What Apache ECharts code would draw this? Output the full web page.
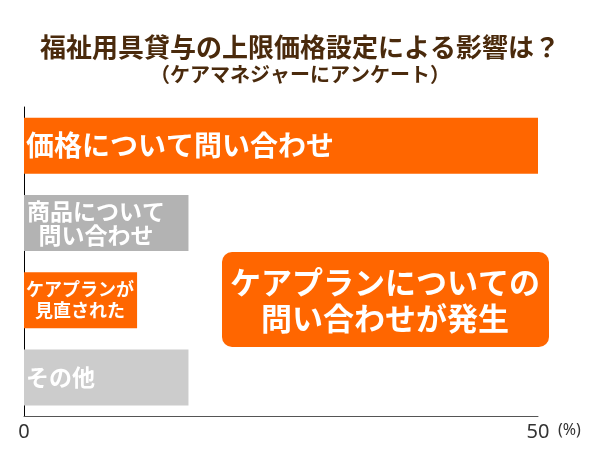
<!DOCTYPE html>
<html>
<head>
<meta charset="utf-8">
<script src="https://cdn.jsdelivr.net/npm/echarts@6/dist/echarts.min.js"></script>
<style>
html,body{margin:0;padding:0;background:#fff;}
#c{width:600px;height:450px;}
</style>
</head>
<body>
<div id="c"></div>
<script>
const titleText = '福祉用具貸与の上限価格設定による影響は？';
const subtitleText = '（ケアマネジャーにアンケート）';
const categories = ['価格について問い合わせ', '商品について\n問い合わせ', 'ケアプランが\n見直された', 'その他'];
const values = [50, 16, 11, 16];
const barColors = ['#FF6600', '#B3B3B3', '#FF6600', '#CCCCCC'];
const annotationLines = ['ケアプランについての', '問い合わせが発生'];
const axisTicks = [0, 50];
const unitLabel = '(%)';

const FONT = '"Noto Sans CJK JP", "Noto Sans", sans-serif';

const labelStyles = [
  { position: 'insideLeft', align: 'left', fontSize: 28, lineHeight: 30, distance: 2 },
  { position: [72, '50%'], align: 'center', fontSize: 23, lineHeight: 24 },
  { position: [56, '50%'], align: 'center', fontSize: 18, lineHeight: 21 },
  { position: 'insideLeft', align: 'left', fontSize: 23, lineHeight: 24, distance: 2 }
];

const chart = echarts.init(document.getElementById('c'), null, { renderer: 'canvas' });

const data = values.map((v, i) => ({
  value: v,
  itemStyle: { color: barColors[i] },
  label: Object.assign({
    show: true,
    formatter: categories[i],
    color: '#fff',
    fontWeight: 'bold',
    fontFamily: FONT,
    verticalAlign: 'middle'
  }, labelStyles[i])
}));

chart.setOption({
  animation: false,
  backgroundColor: '#fff',
  title: {
    text: titleText,
    subtext: subtitleText,
    left: 'center',
    top: 28,
    itemGap: 2,
    textStyle: { color: '#4A2A0C', fontSize: 26, fontWeight: 'bold', fontFamily: FONT, lineHeight: 28 },
    subtextStyle: { color: '#4A2A0C', fontSize: 20, fontWeight: 'bold', fontFamily: FONT, lineHeight: 22 }
  },
  grid: { left: 24, right: 62, top: 107, bottom: 34, containLabel: false },
  xAxis: {
    type: 'value',
    min: axisTicks[0],
    max: axisTicks[axisTicks.length - 1],
    interval: axisTicks[1] - axisTicks[0],
    splitLine: { show: false },
    axisTick: { show: false },
    axisLine: { show: true, lineStyle: { color: '#555', width: 1 } },
    axisLabel: { color: '#333', fontSize: 20, fontFamily: '"Noto Sans", sans-serif', margin: 6 }
  },
  yAxis: {
    type: 'category',
    inverse: true,
    data: categories,
    axisTick: { show: false },
    axisLabel: { show: false },
    axisLine: { show: true, lineStyle: { color: '#000', width: 1 } }
  },
  series: [{
    type: 'bar',
    data: data,
    barWidth: 56,
    silent: true
  }],
  graphic: [
    {
      type: 'rect',
      left: 222,
      top: 252,
      shape: { width: 327, height: 95, r: 10 },
      style: { fill: '#FF6600' },
      silent: true
    },
    {
      type: 'text',
      x: 385,
      y: 300,
      style: {
        text: annotationLines.join('\n'),
        fill: '#fff',
        font: 'bold 31px ' + FONT,
        lineHeight: 36,
        align: 'center',
        verticalAlign: 'middle'
      },
      silent: true
    },
    {
      type: 'text',
      x: 558,
      y: 430,
      style: { text: unitLabel, fill: '#333', font: '16px "Noto Sans", sans-serif', verticalAlign: 'middle' }
    }
  ]
});
</script>
</body>
</html>
